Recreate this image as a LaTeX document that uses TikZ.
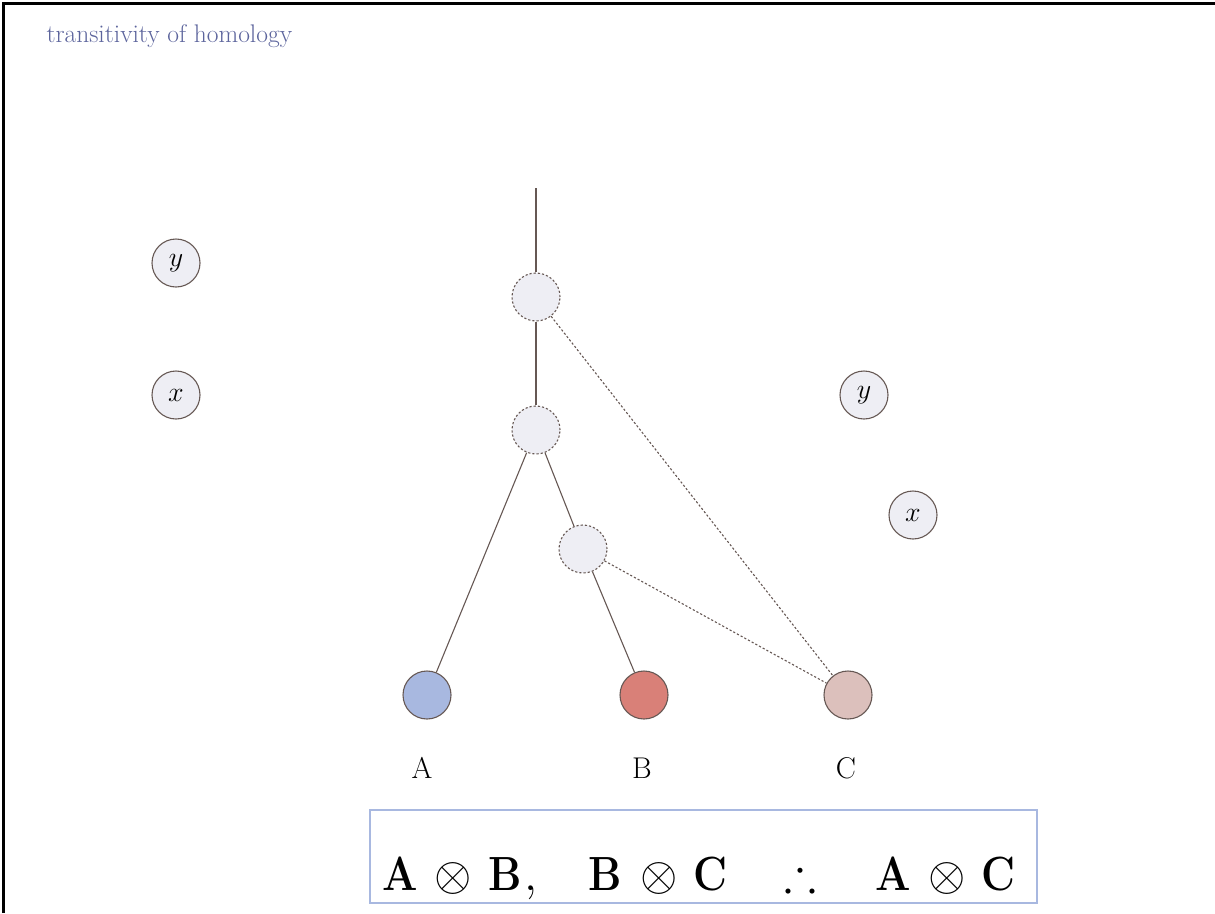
\RequirePackage{fix-cm}
\documentclass[tikz,border=0pt]{standalone}
\usepackage{amsmath,amssymb}
\definecolor{edgecol}{HTML}{665854}
\definecolor{nodefill}{HTML}{EEEEF4}
\definecolor{titlecol}{HTML}{5C649C}
\definecolor{leafA}{HTML}{A8B8E0}
\definecolor{leafB}{HTML}{D98078}
\definecolor{leafC}{HTML}{DCC0BC}
\definecolor{boxcol}{HTML}{A8B8E0}
\tikzset{
  inner/.style={circle, minimum size=48pt, inner sep=0pt, fill=nodefill, draw=edgecol, line width=1.1pt, dash pattern=on 2.2pt off 2pt},
  leaf/.style={circle, minimum size=48pt, inner sep=0pt, draw=edgecol, line width=1.1pt},
  var/.style={circle, minimum size=48pt, inner sep=0pt, fill=nodefill, draw=edgecol, line width=1.1pt, font=\fontsize{28}{32}\selectfont},
  tree/.style={draw=edgecol, line width=1.1pt},
  link/.style={draw=edgecol, line width=1.1pt, dash pattern=on 2.2pt off 2pt},
  leaflabel/.style={font=\fontsize{30}{34}\selectfont},
  glyph/.style={anchor=base, inner sep=0pt, font=\fontsize{48}{52}\selectfont},
  letter/.style={glyph, xscale=0.87},
}
\begin{document}
\begin{tikzpicture}[x=1pt,y=-1pt]
\useasboundingbox (0,0) rectangle (1215,913);
% frame
\draw[line width=3pt] (3.5,913) -- (3.5,3.5) -- (1215,3.5);
% title
\node[anchor=west, text=titlecol, font=\fontsize{25.5}{30}\selectfont] (title) at (43,36) {transitivity of homology};
% tree
\coordinate (top) at (536,188);
\node[inner] (n1) at (536,297) {};
\node[inner] (n2) at (536,430) {};
\node[inner] (n3) at (583,549) {};
\node[leaf, fill=leafA] (a) at (427,695) {};
\node[leaf, fill=leafB] (b) at (644,695) {};
\node[leaf, fill=leafC] (c) at (848,695) {};
\draw[tree] (top) -- (n1);
\draw[tree] (n1) -- (n2);
\draw[tree] (n2) -- (a);
\draw[tree] (n2) -- (n3);
\draw[tree] (n3) -- (b);
\draw[link] (n1) -- (c);
\draw[link] (n3) -- (c);
% leaf labels
\node[leaflabel] (la) at (422,768) {A};
\node[leaflabel] (lb) at (642,768) {B};
\node[leaflabel] (lc) at (846,768) {C};
% variables
\node[var] (y1) at (176,263) {$y$};
\node[var] (x1) at (176,395) {$x$};
\node[var] (y2) at (864,395) {$y$};
\node[var] (x2) at (913,515) {$x$};
% conclusion: A (x) B, B (x) C, therefore A (x) C
\node[draw=boxcol, line width=2pt, minimum width=667pt, minimum height=93pt, inner sep=0pt] (box) at (703.5,856.5) {};
\node[letter] (e1) at (400,890) {$\mathbf{A}$};
\node[glyph] (e2) at (453.5,890) {$\otimes$};
\node[letter] (e3) at (505,890) {$\mathbf{B}$};
\node[glyph] (e4) at (531,890) {$\mathbf{,}$};
\node[letter] (e5) at (605.5,890) {$\mathbf{B}$};
\node[glyph] (e6) at (659,890) {$\otimes$};
\node[letter] (e7) at (710.5,890) {$\mathbf{C}$};
\node[glyph] (e8) at (800.5,890) {$\therefore$};
\node[letter] (e9) at (893.5,890) {$\mathbf{A}$};
\node[glyph] (e10) at (947,890) {$\otimes$};
\node[letter] (e11) at (998,890) {$\mathbf{C}$};
\end{tikzpicture}
\end{document}
